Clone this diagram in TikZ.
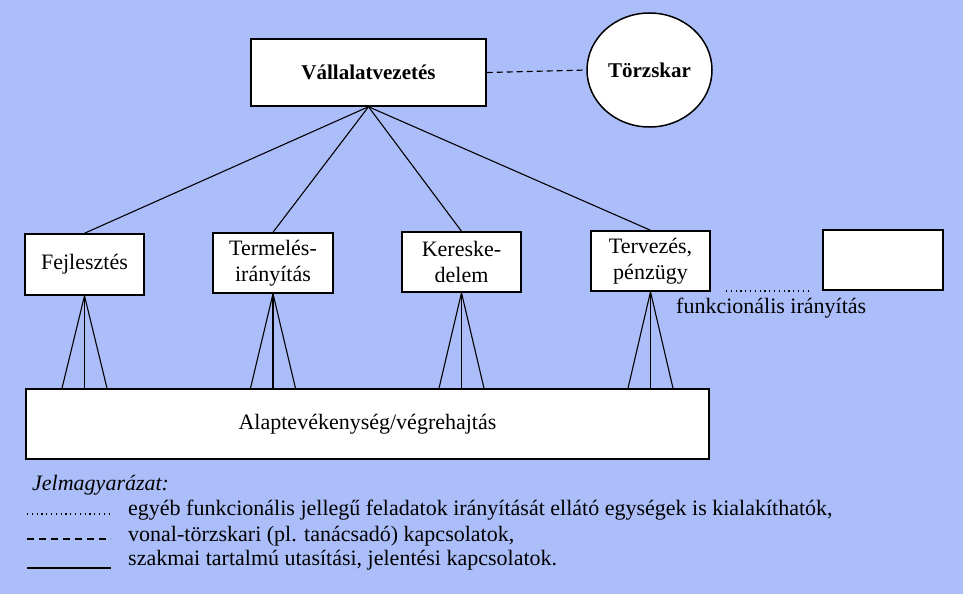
\documentclass[tikz,border=0pt]{standalone}
\usepackage{fontspec}
\setmainfont{Liberation Serif}
\usetikzlibrary{calc,shapes.geometric}
\definecolor{bg}{RGB}{172,190,250}
\begin{document}
\begin{tikzpicture}[x=1pt,y=-1pt,
  txt/.style={font=\fontsize{22}{26}\selectfont},
  box/.style={draw, fill=white, line width=1.5pt, inner sep=0pt, align=center, txt,
    minimum width=120pt, minimum height=60pt},
  conn/.style={line width=1.1pt},
  dashconn/.style={line width=1.2pt, dash pattern=on 6pt off 4pt},
  dotconn/.style={line width=1.1pt, dash pattern=on 1.1pt off 3.7pt},
  legdash/.style={line width=1.3pt, dash pattern=on 7pt off 5pt}]
\fill[bg] (0,0) rectangle (963,594);
\useasboundingbox (0,0) rectangle (963,594);

% top
\node[box, font=\bfseries\fontsize{21}{25}\selectfont, minimum width=235pt, minimum height=67pt] (vall) at (368.5,72.5) {Vállalatvezetés};
\node[draw, fill=white, ellipse, line width=1.5pt, inner sep=0pt,
  minimum width=125pt, minimum height=114pt, font=\bfseries\fontsize{21}{25}\selectfont] (tor) at (649.5,70) {Törzskar};
\draw[dashconn] (vall.east) -- (tor.west);

% middle boxes
\node[box, minimum width=119pt, minimum height=61pt] (fej) at (84.5,264.5) {Fejlesztés};
\node[box] (term) at (273,263) {Termelés-\\irányítás};
\node[box, minimum width=119pt] (ker) at (461.5,262) {Kereske-\\delem};
\node[box, minimum width=119pt] (terv) at (650.5,261) {Tervezés,\\pénzügy};
\node[box, minimum height=60pt] (empty) at (883,260) {};

\foreach \n in {fej,term,ker,terv} \draw[conn] (vall.south) -- (\n.north);

% dotted functional
\coordinate (d1) at (726,291);
\coordinate (d2) at (808,291);
\draw[dotconn] (d1) -- (d2);
\node[txt, anchor=base west, inner sep=0pt] (funk) at (676,313) {funkcionális irányítás};

% base box
\node[box, minimum width=683pt, minimum height=70pt] (alap) at (367.5,424) {Alaptevékenység/végrehajtás};

\foreach \n in {fej,term,ker,terv} {
  \draw[conn] (\n.south) -- ($(\n.south |- alap.north)+(-22.5,0)$);
  \draw[conn] (\n.south) -- (\n.south |- alap.north);
  \draw[conn] (\n.south) -- ($(\n.south |- alap.north)+(22.5,0)$);
}

% legend
\node[font=\itshape\fontsize{22}{26}\selectfont, anchor=base west, inner sep=0pt] (leg) at (32,490) {Jelmagyarázat:};
\node[txt, anchor=base west, inner sep=0pt] (l1) at (128,515) {egyéb funkcionális jellegű feladatok irányítását ellátó egységek is kialakíthatók,};
\node[txt, anchor=base west, inner sep=0pt] (l2) at (128,541) {vonal-törzskari (pl. tanácsadó) kapcsolatok,};
\node[txt, anchor=base west, inner sep=0pt] (l3) at (128,565) {szakmai tartalmú utasítási, jelentési kapcsolatok.};
\coordinate (a1) at (27,514); \coordinate (b1) at (111,514);
\coordinate (a2) at (27,539); \coordinate (b2) at (111,539);
\coordinate (a3) at (27,568); \coordinate (b3) at (111,568);
\draw[dotconn] (a1) -- (b1);
\draw[legdash] (a2) -- (b2);
\draw[conn, line width=1.3pt] (a3) -- (b3);
\end{tikzpicture}
\end{document}
